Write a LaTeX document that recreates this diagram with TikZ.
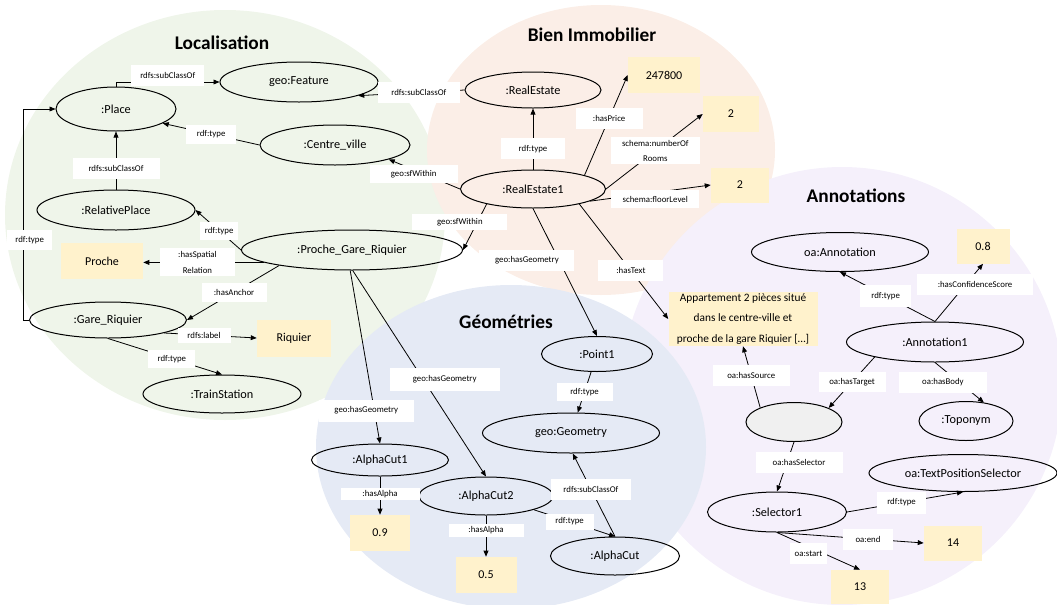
\documentclass[tikz,border=0pt]{standalone}
\usepackage{fontspec}
\setmainfont{Carlito}
\usetikzlibrary{shapes.geometric,arrows.meta}

\definecolor{bggreen}{RGB}{239,245,234}
\definecolor{bgorange}{RGB}{251,238,231}
\definecolor{bgblue}{RGB}{229,234,245}
\definecolor{bgpurple}{RGB}{245,240,251}
\definecolor{litbox}{RGB}{255,242,204}
\definecolor{blankgrey}{RGB}{240,240,240}

\begin{document}
\begin{tikzpicture}[x=0.75pt,y=0.75pt,yscale=-1,xscale=1,
    sz/.style 2 args={minimum width=#1*0.75pt, minimum height=#2*0.75pt},
    ent/.style={draw, ellipse, line width=0.75pt, inner sep=0pt, font=\fontsize{9.2}{11}\selectfont},
    val/.style={fill=litbox, inner sep=0pt, font=\fontsize{9}{11}\selectfont},
    lbl/.style={fill=white, inner xsep=2pt, inner ysep=0.5pt, align=center, font=\fontsize{6.6}{11.5}\selectfont},
    rel/.style={-{Triangle[length=4.5pt,width=3.6pt]}, line width=0.6pt},
    ttl/.style={font=\fontsize{14.5}{17}\selectfont\bfseries}]

            \useasboundingbox (0,0) rectangle (1057,604);

            % Backgrounds
            \fill[bggreen]  (225,215) ellipse (220 and 205);
            \fill[bgorange] (601,150) ellipse (174 and 145);
            \fill[bgpurple] (842,386) ellipse (220 and 219);
            \fill[bgblue]   (511,447) ellipse (195 and 162);

            % Titles
            \draw (222,43)  node [ttl] (t-loc) {Localisation};
            \draw (592,35)  node [ttl] (t-bien) {Bien Immobilier};
            \draw (506,322) node [ttl] (t-geo) {Géométries};
            \draw (856,196) node [ttl] (t-ann) {Annotations};

            % Localisation
            \draw (116,109) node [ent, sz={120}{44}] (place) {:Place};
            \draw (299,82)  node [ent, sz={158}{40}] (feat) {geo:Feature};
            \draw (335,145) node [ent, sz={150}{40}] (cv) {:Centre\_ville};
            \draw (116,210) node [ent, sz={158}{40}] (rp) {:RelativePlace};
            \draw (352,250) node [ent, sz={221}{40}] (proche) {:Proche\_Gare\_Riquier};
            \draw (102,261) node [val, sz={82}{36}] (sp) {Proche};
            \draw (108,320) node [ent, sz={157}{36}] (gare) {:Gare\_Riquier};
            \draw (294,338) node [val, sz={74}{37}] (riq) {Riquier};
            \draw (222,394) node [ent, sz={158}{38}] (ts) {:TrainStation};

            % Bien Immobilier
            \draw (533,90)  node [ent, sz={136}{36}] (re) {:RealEstate};
            \draw (533,189) node [ent, sz={145}{38}] (re1) {:RealEstate1};
            \draw (664,75)  node [val, sz={72}{36}] (price) {247800};
            \draw (731,114) node [val, sz={56}{36}] (rooms) {2};
            \draw (740,185) node [val, sz={58}{35}] (floor) {2};
            \draw (743,319) node [val, sz={149}{54}, align=center, font=\fontsize{8.5}{15.4}\selectfont] (txt)
                {Appartement 2 pièces situé\\dans le centre-ville et\\proche de la gare Riquier [\dots]};

            % Geometries
            \draw (597,354) node [ent, sz={111}{35}] (pt) {:Point1};
            \draw (571,433) node [ent, sz={177}{40}] (geom) {geo:Geometry};
            \draw (380,460) node [ent, sz={137}{32}] (ac1) {:AlphaCut1};
            \draw (380,533) node [val, sz={60}{36}] (n09) {0.9};
            \draw (486,496) node [ent, sz={134}{38}] (ac2) {:AlphaCut2};
            \draw (486,575) node [val, sz={61}{36}] (n05) {0.5};
            \draw (615,556) node [ent, sz={129}{38}] (ac) {:AlphaCut};

            % Annotations
            \draw (840,252) node [ent, sz={177}{39}] (oaann) {oa:Annotation};
            \draw (983,246) node [val, sz={53}{35}] (conf) {0.8};
            \draw (935,342) node [ent, sz={177}{40}] (ann1) {:Annotation1};
            \draw (794,422) node [ent, sz={96}{39}, fill=blankgrey] (blank) {};
            \draw (966,421) node [ent, sz={94}{39}] (topo) {:Toponym};
            \draw (963,473) node [ent, sz={188}{37}] (tps) {oa:TextPositionSelector};
            \draw (777,512) node [ent, sz={139}{40}] (sel) {:Selector1};
            \draw (953,543) node [val, sz={58}{35}] (n14) {14};
            \draw (860,587) node [val, sz={58}{34}] (n13) {13};

            % Links - Localisation
            \draw[rel] (place.north) |- node [lbl, sz={73}{21}, pos=0.75, yshift=5pt] (l-sub1) {rdfs:subClassOf} (feat.west);
            \draw[rel] (re.west) -- node [lbl, sz={82}{21}, pos=0.43] (l-sub2) {rdfs:subClassOf} (feat.-13);
            \draw[rel] (cv.west) -- node [lbl, sz={50}{19}, pos=0.5] (l-type1) {rdf:type} (place.-17);
            \draw[rel] (rp) -- node [lbl, sz={87}{21}, pos=0.37] (l-sub3) {rdfs:subClassOf} (place);
            \draw[rel] (gare.west) -- ++(-6,0) |- node [lbl, sz={45}{20}, pos=0.19, xshift=5pt] (l-type2) {rdf:type} (place.west);
            \draw[rel] (proche.west) -- node [lbl, sz={38}{18}, pos=0.48] (l-type3) {rdf:type} (rp.east);
            \draw[rel] (proche.-172) -- node [lbl, sz={75}{28}, pos=0.55] (l-spat) {:hasSpatial\\Relation} (proche.-172 -| sp.east);
            \draw[rel] (proche.-168) -- node [lbl, sz={65}{19}, pos=0.49] (l-anch) {:hasAnchor} (gare.east);
            \draw[rel] (gare.-13) -- node [lbl, sz={53}{15}, pos=0.43] (l-label) {rdfs:label} (riq.west);
            \draw[rel] (gare.south) -- node [lbl, sz={47}{18}, pos=0.56] (l-type4) {rdf:type} (ts.north);

            % Links - Bien Immobilier
            \draw[rel] (re1) -- node [lbl, sz={64}{21}, pos=0.34] (l-type5) {rdf:type} (re);
            \draw[rel] (re1.west) -- node [lbl, sz={88}{18}, pos=0.65, yshift=-3pt] (l-within1) {geo:sfWithin} (cv.-15);
            \draw[rel] (re1.15) -- node [lbl, sz={67}{21}, pos=0.57] (l-price) {:hasPrice} (price.west);
            \draw[rel] (re1.east) -- node [lbl, sz={89}{27}, pos=0.51] (l-rooms) {schema:numberOf\\Rooms} (rooms.west);
            \draw[rel] (re1.-12) -- node [lbl, sz={88}{18}, pos=0.54, yshift=-5pt] (l-floor) {schema:floorLevel} (floor.west);
            \draw[rel] (re1.-162) -- node [lbl, sz={95}{16}, pos=0.4, xshift=-13pt] (l-within2) {geo:sfWithin} (proche.east);
            \draw[rel] (re1.south) -- node [lbl, sz={95}{21}, pos=0.405, xshift=-24pt] (l-geom1) {geo:hasGeometry} (pt.north);
            \draw[rel] (re1.-18) -- node [lbl, sz={65}{21}, pos=0.58] (l-text) {:hasText} (txt.west);

            % Links - Geometries
            \draw[rel] (proche.-95) -- node [lbl, sz={95}{22}, pos=0.81, xshift=-6pt] (l-geom2) {geo:hasGeometry} (ac1.north);
            \draw[rel] (proche.-88) -- node [lbl, sz={110}{23}, pos=0.53, xshift=16pt] (l-geom3) {geo:hasGeometry} (ac2.north);
            \draw[rel] (pt) -- node [lbl, sz={56}{18}, pos=0.49] (l-type6) {rdf:type} (geom);
            \draw[rel] (ac.north) -- node [lbl, sz={80}{21}, pos=0.57] (l-sub4) {rdfs:subClassOf} (geom.-85);
            \draw[rel] (ac2.-16) -- node [lbl, sz={48}{16}, pos=0.44] (l-type7) {rdf:type} (ac.north);
            \draw[rel] (ac1) -- node [lbl, sz={79}{12}, pos=0.46] (l-alpha1) {:hasAlpha} (n09);
            \draw[rel] (ac2) -- node [lbl, sz={75}{13}, pos=0.36] (l-alpha2) {:hasAlpha} (n05);

            % Links - Annotations
            \draw[rel] (ann1.north) -- node [lbl, sz={51}{22}, pos=0.52] (l-type8) {rdf:type} (oaann.south);
            \draw[rel] (ann1.north) -- node [lbl, sz={116}{21}, pos=0.64, xshift=7pt] (l-conf) {:hasConfidenceScore} (conf.south);
            \draw[rel] (blank.157) -- node [lbl, sz={77}{21}, pos=0.52] (l-source) {oa:hasSource} (txt.south);
            \draw[rel] (ann1.-166) -- node [lbl, sz={67}{20}, pos=0.49] (l-target) {oa:hasTarget} (blank.22);
            \draw[rel] (ann1.south) -- node [lbl, sz={88}{21}, pos=0.49, xshift=-12pt] (l-body) {oa:hasBody} (topo.46);
            \draw[rel] (blank.south) -- node [lbl, sz={87}{21}, pos=0.41, xshift=9pt] (l-selector) {oa:hasSelector} (sel.north);
            \draw[rel] (sel.east) -- node [lbl, sz={49}{22}, pos=0.47] (l-type9) {rdf:type} (tps.south);
            \draw[rel] (sel.south) -- node [lbl, sz={50}{21}, pos=0.62] (l-end) {oa:end} (n14.west);
            \draw[rel] (sel.south) -- node [lbl, sz={37}{21}, pos=0.38, yshift=-5pt] (l-start) {oa:start} (n13.north);

            \end{tikzpicture}
\end{document}
